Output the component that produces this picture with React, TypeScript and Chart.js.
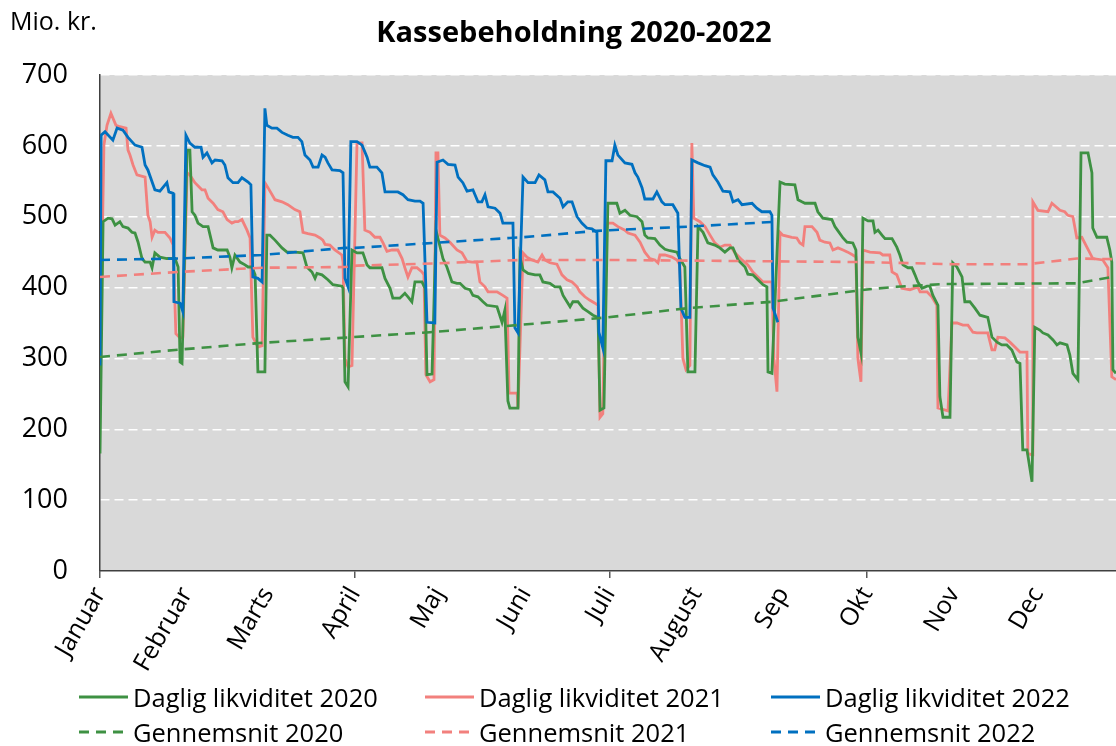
import React, { useEffect, useRef } from "react";
import { Chart, registerables } from "chart.js";

Chart.register(...registerables);

const monthLabels = ["Januar", "Februar", "Marts", "April", "Maj", "Juni", "Juli", "August", "Sep", "Okt", "Nov", "Dec"];
const monthStarts = [0, 31, 60, 91, 121, 152, 182, 213, 244, 274, 305, 335];
const tickMarkMonths = [0, 3, 6, 9];
const yMin = 0;
const yMax = 700;
const yStep = 100;
const xMax = 362.9;

const seriesNames = ["Daglig likviditet 2020", "Daglig likviditet 2021", "Daglig likviditet 2022", "Gennemsnit 2020", "Gennemsnit 2021", "Gennemsnit 2022"];
const colors = ["#3E9143", "#F2807D", "#0070C0"];

// [day of year, mio. kr.]
const daily2022: [number, number][] = [
  [0, 290], [0.4, 615], [1.8, 620], [4.6, 608], [6.1, 625], [8.2, 622], [10, 612], [12.5, 601], [15, 598], [16.1, 573], [17.1, 566], [19.6, 538], [21.4, 536], [23.9, 548], [24.6, 535], [26.1, 533], [26.4, 380], [28.6, 378], [29.6, 366],
  [30.7, 615], [32.1, 604], [33.9, 598], [36.1, 598], [36.8, 584], [38.2, 590], [40, 576], [41.1, 580], [43.6, 579], [44.6, 573], [45.7, 555], [47.5, 548], [49.3, 548], [50.7, 555], [52.9, 549], [53.9, 545], [54.6, 415], [56.4, 413], [57.9, 408],
  [58.9, 653], [59.6, 629], [61.4, 625], [63.2, 625], [65, 619], [67.1, 615], [68.9, 612], [70.7, 612], [72.1, 606], [73.2, 587], [75, 580], [76.1, 570], [77.9, 570], [79.3, 587], [80.4, 584], [81.4, 576], [82.9, 566], [85.7, 565], [86.8, 562], [87.5, 413], [88.6, 401],
  [89.6, 606], [91.8, 606], [93.6, 601], [95.4, 584], [96.4, 570], [98.9, 570], [100.7, 562], [101.8, 535], [106.4, 535], [108.2, 531], [110, 524], [112.5, 522], [114.3, 522], [115.4, 519], [116.8, 351], [119.6, 350],
  [120.4, 577], [122.5, 580], [124.3, 574], [126.8, 573], [127.9, 556], [129.6, 548], [131.1, 536], [133.2, 538], [135, 521], [136.4, 521], [137.5, 531], [138.6, 514], [141.1, 512], [142.9, 505], [143.9, 491], [147.5, 491], [148.2, 343], [149.3, 336],
  [151.1, 556], [152.9, 548], [155.4, 548], [156.8, 559], [158.9, 552], [160, 535], [161.8, 535], [164.3, 526], [165.4, 514], [167.1, 521], [168.6, 521], [170.4, 500], [172.1, 491], [173.9, 484], [175.7, 483], [177.5, 478], [178.2, 337], [179.6, 315],
  [180.7, 579], [182.9, 579], [183.9, 601], [185, 587], [187.5, 576], [190, 574], [191.1, 562], [192.1, 556], [193.6, 541], [194.6, 525], [197.5, 525], [198.9, 535], [200.7, 521], [201.8, 517], [204.6, 517], [206.4, 505], [207.5, 371], [208.9, 358], [210.7, 358],
  [211.4, 580], [213.6, 576], [216.1, 572], [217.9, 570], [218.9, 559], [220.7, 549], [222.5, 536], [225, 535], [226.1, 521], [227.9, 524], [229.3, 517], [232.9, 519], [234.6, 512], [236.4, 507], [239.3, 507], [240, 502], [240.4, 371], [242.1, 351],
];

const daily2021: [number, number][] = [
  [0, 282], [1.4, 601], [2.5, 629], [3.9, 646], [5.7, 629], [7.1, 627], [9.3, 625], [10, 594], [10.7, 587], [11.8, 573], [13.2, 559], [16.1, 556], [17.1, 502], [17.9, 493], [18.6, 471], [19.6, 481], [20.7, 478], [23.2, 478], [25, 470], [26.1, 460], [27.1, 335], [28.6, 329], [29.6, 330],
  [31.1, 562], [32.1, 559], [33.9, 548], [36.4, 538], [37.5, 538], [38.6, 526], [40.4, 519], [42.1, 510], [43.9, 507], [45.4, 496], [47.1, 491], [48.2, 493], [49.3, 493], [50.7, 496], [52.5, 481], [53.6, 470], [54.6, 330], [56.4, 316], [57.9, 318],
  [58.9, 548], [60, 541], [62.5, 524], [65, 521], [67.1, 517], [69.6, 510], [71.4, 507], [72.5, 478], [74.3, 476], [76.8, 474], [78.6, 470], [79.6, 467], [80.4, 461], [82.1, 460], [83.9, 453], [86.4, 446], [86.8, 436], [87.5, 300], [88.6, 288], [90, 290],
  [91.8, 604], [93.6, 604], [94.6, 481], [96.4, 478], [98.2, 471], [100, 471], [101.1, 463], [102.5, 451], [104.3, 453], [106.4, 453], [107.9, 441], [108.9, 428], [110, 415], [111.4, 428], [113.2, 428], [115, 422], [115.7, 418], [116.4, 277], [117.9, 267], [119.3, 270],
  [120, 590], [120.7, 590], [121.4, 474], [123.2, 470], [125, 464], [127.5, 453], [129.3, 449], [131.1, 437], [132.9, 436], [134.6, 436], [135.7, 408], [137.5, 401], [138.6, 394], [141.8, 394], [143.9, 389], [145.4, 385], [146.1, 251], [149, 251], [149.3, 230],
  [151.1, 449], [152.5, 443], [154.3, 439], [156.4, 436], [157.9, 446], [158.9, 439], [160.7, 435], [163.2, 433], [165, 418], [166.8, 411], [168.6, 408], [170.4, 401], [171.4, 394], [173.2, 387], [175, 382], [176.8, 378], [177.9, 375], [178.6, 217], [179.6, 222],
  [180.7, 478], [181.4, 491], [183.2, 491], [185, 486], [187.5, 481], [188.6, 477], [191.1, 474], [192.9, 464], [194.6, 450], [196.4, 441], [198.2, 439], [199.3, 435], [200, 446], [201.8, 446], [204.3, 443], [206.1, 439], [207.1, 432], [208.2, 300], [209.3, 284], [210.7, 290],
  [211.4, 604], [212.1, 498], [214.3, 493], [216.1, 486], [217.9, 474], [219.6, 463], [221.4, 457], [223.2, 460], [225, 460], [226.8, 449], [229.3, 439], [231.4, 432], [233.2, 422], [235, 415], [236.8, 408], [240, 408], [240.7, 300], [241.8, 253],
  [242.9, 478], [243.9, 474], [247.1, 471], [248.9, 470], [250, 463], [251.1, 460], [251.8, 486], [254.3, 486], [256.1, 478], [257.1, 467], [258.9, 464], [260.7, 463], [261.8, 453], [263.6, 456], [265.4, 453], [267.1, 450], [268.9, 446], [270, 443], [270.7, 300], [271.8, 267],
  [272.5, 453], [275, 450], [278.6, 449], [279.6, 446], [282.1, 446], [282.9, 422], [284.6, 418], [286.4, 399], [289.3, 397], [292.1, 401], [292.9, 394], [295.4, 394], [297.1, 387], [298.9, 375], [299.3, 230], [302.9, 226],
  [304.3, 350], [306.1, 350], [308.2, 347], [310, 347], [311.8, 337], [313.2, 336], [317.1, 336], [318.6, 312], [319.6, 312], [320.7, 330], [323.2, 329], [325, 323], [326.8, 316], [328.6, 309], [331.1, 309], [331.4, 166], [332.9, 164],
  [333.2, 521], [335, 509], [338.6, 507], [340, 519], [342.9, 509], [344.6, 507], [345.7, 502], [347.5, 500], [348.9, 470], [350.7, 471], [352.5, 457], [354.6, 441], [358.2, 439], [360, 428], [361.4, 274], [362.9, 270],
];

const daily2020: [number, number][] = [
  [0, 166], [1.1, 493], [2.9, 498], [4.3, 497], [5.4, 488], [7.1, 493], [8.2, 486], [10, 484], [11.4, 478], [12.5, 477], [13.6, 464], [15, 441], [16.1, 436], [17.9, 436], [18.6, 428], [19.6, 449], [21.4, 443], [23.9, 441], [26.8, 441], [27.9, 429], [28.6, 295], [29.3, 293],
  [31.1, 594], [32.1, 594], [32.9, 507], [33.9, 502], [35, 491], [36.8, 486], [38.6, 486], [40.4, 456], [42.1, 453], [45.4, 453], [46.4, 443], [47.1, 428], [48.2, 446], [50, 436], [51.8, 432], [52.9, 429], [54.3, 429], [55.4, 418], [56.4, 281], [58.9, 281],
  [59.6, 474], [60.7, 474], [62.5, 467], [65, 456], [66.8, 450], [69.6, 450], [72.5, 449], [73.9, 429], [75.7, 422], [76.8, 413], [77.5, 420], [79.3, 418], [81.4, 411], [83.2, 404], [86.4, 402], [86.8, 399], [87.5, 267], [88.6, 260],
  [90, 453], [91.8, 449], [93.9, 449], [95.4, 432], [96.4, 428], [100.7, 428], [101.8, 413], [103.6, 399], [104.6, 385], [107.1, 385], [108.9, 392], [110, 387], [111.4, 380], [112.5, 408], [115, 408], [116.1, 399], [116.8, 277], [118.6, 278],
  [120, 481], [122.5, 441], [123.9, 429], [125.7, 408], [127.5, 406], [128.6, 406], [130.4, 399], [132.1, 397], [133.2, 389], [135, 387], [136.8, 380], [138.2, 375], [141.8, 373], [143.6, 351], [144.6, 368], [145.7, 240], [146.4, 230], [149.3, 230],
  [150, 443], [151.1, 425], [152.9, 420], [155.4, 418], [157.1, 418], [158.2, 408], [160.7, 406], [162.5, 401], [164.3, 401], [165.4, 389], [166.8, 380], [167.9, 373], [168.9, 380], [170.7, 380], [172.5, 371], [174.3, 366], [176.1, 361], [177.9, 358], [178.6, 227], [180, 230],
  [181.4, 519], [184.6, 519], [185.7, 505], [187.5, 509], [189.3, 502], [191.8, 500], [193.6, 493], [194.6, 474], [195.7, 470], [198.2, 469], [200, 460], [201.8, 454], [203.6, 452], [206.1, 450], [207.1, 441], [208.9, 429], [210, 281], [212.5, 281],
  [213.6, 486], [215.4, 478], [217.1, 463], [219.6, 460], [221.4, 456], [223.2, 450], [225, 456], [226.1, 456], [227.9, 439], [230.4, 429], [231.4, 419], [233.2, 418], [235, 411], [236.8, 404], [238.2, 401], [238.6, 281], [240, 279],
  [242.9, 549], [244.6, 546], [248.2, 545], [249.3, 524], [250.7, 521], [251.8, 519], [255.4, 519], [256.4, 507], [258.2, 498], [261.4, 496], [262.5, 486], [263.6, 480], [265.4, 470], [266.8, 464], [268.9, 463], [270, 453], [270.7, 330], [271.8, 308],
  [272.5, 498], [274.3, 494], [276.1, 494], [276.8, 478], [277.9, 481], [279.3, 474], [280.4, 469], [282.9, 469], [284.6, 457], [285.7, 446], [286.8, 432], [288.6, 428], [290, 428], [291.1, 418], [292.1, 408], [293.6, 399], [295.4, 402], [296.4, 402], [297.5, 389], [299.3, 375], [300, 246], [301.1, 217], [303.6, 217],
  [304.6, 435], [306.1, 429], [307.9, 415], [308.9, 380], [310.7, 380], [312.5, 371], [314.3, 361], [317.1, 358], [318.6, 330], [320.4, 323], [322.1, 319], [323.9, 319], [325.7, 312], [327.5, 295], [328.6, 293], [329.6, 171], [331.1, 171], [332.9, 126],
  [333.9, 344], [335.7, 340], [336.8, 336], [338.6, 333], [340.4, 326], [341.8, 319], [342.9, 322], [345.4, 319], [346.4, 305], [347.5, 279], [349.3, 270],
  [350.4, 590], [352.9, 590], [354.3, 562], [354.6, 484], [356.1, 471], [359.6, 471], [360.7, 453], [361.4, 436], [361.8, 284], [362.9, 279],
];

const avg2020: [number, number][] = [
  [0, 302], [26.8, 312], [57.9, 322], [90, 330], [117.9, 337], [149, 347], [181.4, 358], [210, 371], [240, 380], [273.2, 397], [283.9, 401], [301.8, 405], [348.9, 406], [362.9, 416],
];
const avg2021: [number, number][] = [
  [0, 415], [27.9, 422], [57.9, 428], [87.5, 429], [91.8, 431], [119, 434], [151.1, 439], [181.1, 439], [272.1, 436], [304.6, 433], [331.1, 433], [338.2, 436], [348.9, 441], [362.9, 440],
];
const avg2022: [number, number][] = [
  [0, 439], [27.9, 441], [57.9, 446], [87.5, 456], [91.1, 456], [119, 463], [146.4, 470], [151.1, 471], [177.5, 480], [182.1, 481], [210, 486], [242.1, 493],
];

const FONT = "'Open Sans', 'Noto Sans', sans-serif";

const toXY = (arr: [number, number][]) => arr.map(([x, y]) => ({ x, y }));

const bgPlugin = {
  id: "plotBg",
  beforeDraw(chart: any) {
    const { ctx, chartArea } = chart;
    if (!chartArea) return;
    ctx.save();
    ctx.fillStyle = "#D9D9D9";
    ctx.fillRect(chartArea.left, chartArea.top, chartArea.right - chartArea.left, chartArea.bottom - chartArea.top);
    ctx.restore();
  },
};

function LegendItem({ color, dashed, label }: { color: string; dashed: boolean; label: string }) {
  return (
    <div style={{ display: "flex", alignItems: "center", height: 30 }}>
      <svg width={52} height={6} style={{ marginRight: 3 }}>
        <line x1={1} y1={3} x2={50} y2={3} stroke={color} strokeWidth={3} strokeDasharray={dashed ? "10 7" : undefined} />
      </svg>
      <span style={{ fontFamily: FONT, fontSize: 25.5, color: "#000", whiteSpace: "nowrap", lineHeight: "30px" }}>{label}</span>
    </div>
  );
}

export default function App() {
  const ref = useRef<HTMLCanvasElement | null>(null);

  useEffect(() => {
    document.body.style.margin = "0";
    const canvas = ref.current;
    if (!canvas) return;
    const lineDs = (label: string, data: [number, number][], color: string, dashed: boolean) => ({
      label,
      data: toXY(data),
      borderColor: color,
      backgroundColor: color,
      borderWidth: dashed ? 2.6 : 2.8,
      borderDash: dashed ? [10, 7] : [],
      pointRadius: 0,
      tension: 0,
      fill: false,
    });
    const chart = new Chart(canvas, {
      type: "line",
      data: {
        datasets: [
          lineDs(seriesNames[5], avg2022, colors[2], true),
          lineDs(seriesNames[4], avg2021, colors[1], true),
          lineDs(seriesNames[3], avg2020, colors[0], true),
          lineDs(seriesNames[2], daily2022, colors[2], false),
          lineDs(seriesNames[0], daily2020, colors[0], false),
          lineDs(seriesNames[1], daily2021, colors[1], false),
        ],
      },
      options: {
        animation: false,
        responsive: false,
        maintainAspectRatio: false,
        layout: { padding: { top: 75, right: 0, bottom: 0, left: 0 } },
        plugins: {
          legend: { display: false },
          title: { display: false },
          tooltip: { enabled: false },
        },
        scales: {
          x: {
            type: "linear",
            min: 0,
            max: xMax,
            afterBuildTicks: (axis: any) => {
              axis.ticks = monthStarts.map((v) => ({ value: v }));
            },
            afterFit: (scale: any) => {
              scale.height = 175;
            },
            ticks: {
              autoSkip: false,
              maxRotation: 60,
              minRotation: 60,
              padding: 4,
              color: "#000",
              font: { family: FONT, size: 25 },
              callback: (_v: any, i: number) => monthLabels[i],
            },
            grid: {
              display: true,
              drawOnChartArea: false,
              drawTicks: true,
              tickLength: 7,
              lineWidth: 1.5,
              color: (ctx: any) => (tickMarkMonths.includes(ctx.index) ? "#595959" : "rgba(0,0,0,0)"),
            },
            border: { display: true, color: "#404040", width: 1.5 },
          },
          y: {
            min: yMin,
            max: yMax,
            afterFit: (scale: any) => {
              scale.width = 100;
            },
            ticks: {
              stepSize: yStep,
              padding: 32,
              color: "#000",
              font: { family: FONT, size: 27 },
            },
            grid: {
              drawTicks: false,
              lineWidth: 1.5,
              color: (ctx: any) => (ctx.tick && ctx.tick.value > 0 ? "#FFFFFF" : "rgba(0,0,0,0)"),
            },
            border: { display: true, color: "#404040", width: 1.5, dash: [9, 5] },
          },
        },
      },
      plugins: [bgPlugin],
    } as any);
    return () => chart.destroy();
  }, []);

  const legendCols = [78, 424, 770];

  return (
    <div style={{ position: "relative", width: 1116, height: 746, background: "#fff", overflow: "hidden" }}>
      <canvas ref={ref} width={1116} height={746} style={{ position: "absolute", left: 0, top: 0 }} />
      <div style={{ position: "absolute", left: 10, top: 8, fontFamily: FONT, fontSize: 25, lineHeight: "25px", color: "#000" }}>Mio. kr.</div>
      <div style={{ position: "absolute", left: 0, width: 1148, top: 16, textAlign: "center", fontFamily: FONT, fontSize: 29, fontWeight: 700, lineHeight: "29px", color: "#000" }}>
        Kassebeholdning 2020-2022
      </div>
      {[0, 1, 2].map((i) => (
        <div key={"d" + i} style={{ position: "absolute", left: legendCols[i], top: 682 }}>
          <LegendItem color={colors[i]} dashed={false} label={seriesNames[i]} />
        </div>
      ))}
      {[0, 1, 2].map((i) => (
        <div key={"a" + i} style={{ position: "absolute", left: legendCols[i], top: 717 }}>
          <LegendItem color={colors[i]} dashed={true} label={seriesNames[3 + i]} />
        </div>
      ))}
    </div>
  );
}
